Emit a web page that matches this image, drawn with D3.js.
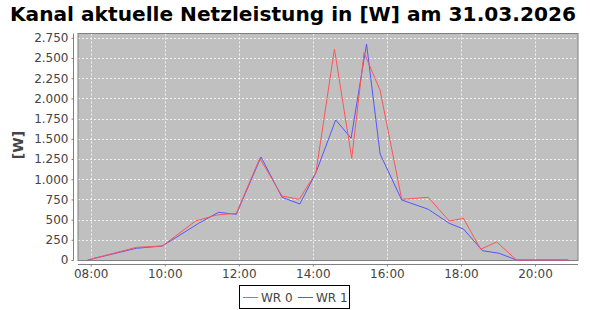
<!DOCTYPE html>
<html>
<head>
<meta charset="utf-8">
<script src="https://cdn.jsdelivr.net/npm/d3@7"></script>
<style>
  body { margin: 0; background: #fff; }
  svg { display: block; font-family: "DejaVu Sans", sans-serif; }
</style>
</head>
<body>
<svg id="chart" width="590" height="310"></svg>
<script>
// series data
let seriesNames = ["WR 0", "WR 1"]
let seriesColors = ["#ff5555", "#5555ff"]

let times_wr0 = ["07:55","09:14","09:56","10:50","11:24","11:56","12:34","13:10","13:38","14:05","14:35","15:03","15:23","15:49","16:24","17:07","17:41","18:04","18:32","18:58","19:30","20:54"]
let values_wr0 = [0,157,173,483,557,578,1259,792,751,1081,2610,1259,2566,2100,751,776,483,516,133,223,0,0]

let times_wr1 = ["07:55","09:14","09:56","10:55","11:27","11:56","12:36","13:10","13:39","14:05","14:37","15:02","15:27","15:49","16:24","17:07","17:41","18:04","18:35","19:02","19:30","20:54"]
let values_wr1 = [0,145,173,454,590,566,1275,776,693,1081,1733,1507,2674,1312,743,628,454,384,115,83,0,0]

let yTicks = [0,250,500,750,1000,1250,1500,1750,2000,2250,2500,2750]
let xTicks = ["08:00","10:00","12:00","14:00","16:00","18:00","20:00"]

let parseTime = d3.timeParse("%H:%M")

let plot = {left: 78, right: 578, top: 33.5, bottom: 260.5}

let svg = d3.select("#chart")

// title
svg.append("text")
   .attr("x", 10)
   .attr("y", 21)
   .attr("textLength", 566)
   .attr("lengthAdjust", "spacingAndGlyphs")
   .style("font-size", "19.5px")
   .style("font-weight", "bold")
   .attr("fill", "#000")
   .text("Kanal aktuelle Netzleistung in [W] am 31.03.2026")

let x = d3.scaleTime()
          .domain([parseTime("08:00"), parseTime("20:00")])
          .range([90.7, 535])

let y = d3.scaleLinear()
          .domain([0, 2750])
          .range([260, 37.8])

// plot background
svg.append("rect")
   .attr("x", plot.left)
   .attr("y", plot.top)
   .attr("width", plot.right - plot.left)
   .attr("height", plot.bottom - plot.top)
   .attr("fill", "#c0c0c0")

// grid lines
svg.append("g")
   .selectAll("line")
   .data(yTicks)
   .enter()
   .append("line")
   .attr("x1", plot.left)
   .attr("x2", plot.right)
   .attr("y1", d => Math.round(y(d)) + 0.5)
   .attr("y2", d => Math.round(y(d)) + 0.5)
   .attr("stroke", "#ffffff")
   .attr("stroke-width", 0.8)
   .attr("stroke-dasharray", "2,2")

svg.append("g")
   .selectAll("line")
   .data(xTicks)
   .enter()
   .append("line")
   .attr("x1", d => Math.round(x(parseTime(d))) + 0.5)
   .attr("x2", d => Math.round(x(parseTime(d))) + 0.5)
   .attr("y1", plot.top)
   .attr("y2", plot.bottom)
   .attr("stroke", "#ffffff")
   .attr("stroke-width", 0.8)
   .attr("stroke-dasharray", "2,2")

// plot border
svg.append("rect")
   .attr("x", plot.left)
   .attr("y", plot.top)
   .attr("width", plot.right - plot.left)
   .attr("height", plot.bottom - plot.top)
   .attr("fill", "none")
   .attr("stroke", "#808080")
   .attr("stroke-width", 1)

// lines, WR 1 first so WR 0 sits on top
let line = d3.line()
             .x(d => x(d.t))
             .y(d => y(d.v))

let series = [
    {name: seriesNames[1], color: seriesColors[1], data: times_wr1.map((t, i) => ({t: parseTime(t), v: values_wr1[i]}))},
    {name: seriesNames[0], color: seriesColors[0], data: times_wr0.map((t, i) => ({t: parseTime(t), v: values_wr0[i]}))}
]

svg.append("g")
   .selectAll("path")
   .data(series)
   .enter()
   .append("path")
   .attr("d", d => line(d.data))
   .attr("fill", "none")
   .attr("stroke", d => d.color)
   .attr("stroke-width", 1)

// y axis
let yAxis = svg.append("g")
               .attr("transform", "translate(73.5,0)")
               .call(d3.axisLeft(y)
                       .tickValues(yTicks)
                       .tickSize(2)
                       .tickPadding(3)
                       .tickFormat(d => d3.format(",")(d).replace(/,/g, ".")))
yAxis.select(".domain")
     .attr("d", `M0,${plot.top}V${plot.bottom}`)
     .attr("stroke", "#808080")
yAxis.selectAll(".tick line").attr("stroke", "#808080")
yAxis.selectAll(".tick text")
     .style("font-size", "12px")
     .style("font-family", "DejaVu Sans")
     .attr("fill", "#444")

// x axis
let xAxis = svg.append("g")
               .attr("transform", "translate(0,264.5)")
               .call(d3.axisBottom(x)
                       .tickValues(xTicks.map(parseTime))
                       .tickSize(2)
                       .tickPadding(3)
                       .tickFormat(d3.timeFormat("%H:%M")))
xAxis.select(".domain")
     .attr("d", `M${plot.left},0H${plot.right}`)
     .attr("stroke", "#808080")
xAxis.selectAll(".tick line").attr("stroke", "#808080")
xAxis.selectAll(".tick text")
     .style("font-size", "12px")
     .style("font-family", "DejaVu Sans")
     .attr("fill", "#444")

// y label
svg.append("text")
   .attr("transform", "translate(23,145) rotate(-90)")
   .attr("text-anchor", "middle")
   .style("font-size", "14px")
   .style("font-weight", "bold")
   .attr("fill", "#444")
   .text("[W]")

// legend
let legend = svg.append("g")
legend.append("rect")
      .attr("x", 239.5)
      .attr("y", 285.5)
      .attr("width", 110)
      .attr("height", 23)
      .attr("fill", "#fff")
      .attr("stroke", "#000")
      .attr("stroke-width", 1)

let legendX = [243, 298]
seriesNames.forEach(function(name, i){
    legend.append("line")
          .attr("x1", legendX[i])
          .attr("x2", legendX[i] + 15)
          .attr("y1", 297.5)
          .attr("y2", 297.5)
          .attr("stroke", seriesColors[i])
    legend.append("text")
          .attr("x", legendX[i] + 18)
          .attr("y", 302)
          .style("font-size", "12px")
          .attr("fill", "#444")
          .text(name)
})
</script>
</body>
</html>
